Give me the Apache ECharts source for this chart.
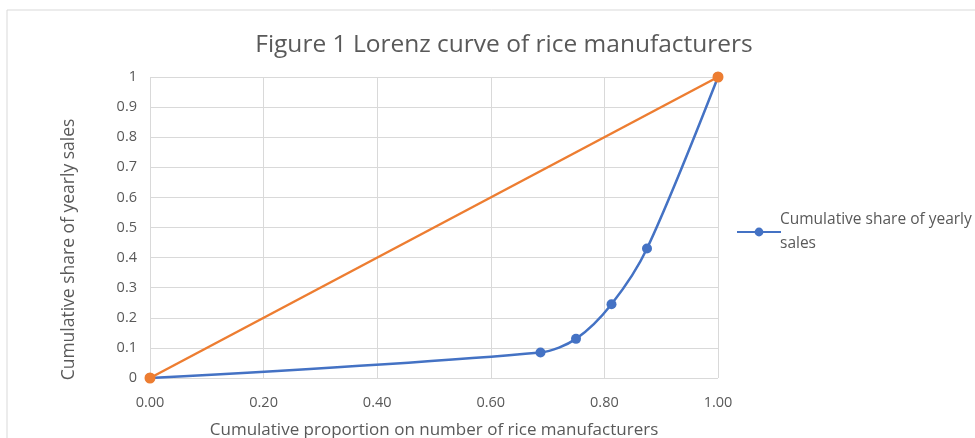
<!DOCTYPE html>
<html><head><meta charset="utf-8">
<script src="https://cdn.jsdelivr.net/npm/echarts@6/dist/echarts.min.js"></script>
<style>html,body{margin:0;padding:0;background:#fff}#c{width:975px;height:438px}</style>
</head><body><div id="c"></div>
<script>
const proportion = [0, 0.6875, 0.75, 0.8125, 0.875, 1];
const cumulativeShare = [0, 0.085, 0.13, 0.245, 0.43, 1];
const equalityX = [0, 1];
const equalityY = [0, 1];
const xTicks = [0, 0.2, 0.4, 0.6, 0.8, 1];
const yTicks = [0, 0.1, 0.2, 0.3, 0.4, 0.5, 0.6, 0.7, 0.8, 0.9, 1];

const font = '"Open Sans", "Liberation Sans", sans-serif';
const chart = echarts.init(document.getElementById('c'));
chart.setOption({
  animation: false,
  title: {
    text: 'Figure 1 Lorenz curve of rice manufacturers',
    left: 499, top: 28, textAlign: 'center',
    textStyle: {fontFamily: font, fontSize: 24.5, fontWeight: 'normal', color: '#595959'}
  },
  graphic: [{type: 'rect', shape: {x: 7, y: 10, width: 975, height: 440}, style: {fill: 'none', stroke: '#d9d9d9', lineWidth: 1}, silent: true}],
  legend: {
    data: [{name: 'Cumulative share of yearly\nsales'}],
    left: 731, top: 203, itemWidth: 44, itemHeight: 11, itemGap: 2,
    textStyle: {fontFamily: font, fontSize: 15.5, color: '#595959', lineHeight: 24, padding: [0, 0, 0, -6]}
  },
  grid: {left: 150, right: 257, top: 77, bottom: 60, outerBoundsMode: 'none', containLabel: false},
  xAxis: {
    type: 'value', min: 0, max: 1, interval: 0.2,
    name: 'Cumulative proportion on number of rice manufacturers',
    nameLocation: 'middle', nameGap: 44,
    nameTextStyle: {fontFamily: font, fontSize: 17, color: '#595959'},
    axisLine: {show: false}, axisTick: {show: false},
    axisLabel: {fontFamily: font, fontSize: 14.5, color: '#595959', margin: 17,
      formatter: v => v.toFixed(2)},
    splitLine: {show: true, lineStyle: {color: '#d9d9d9', width: 1}}
  },
  yAxis: {
    type: 'value', min: 0, max: 1, interval: 0.1,
    name: 'Cumulative share of yearly sales',
    nameLocation: 'middle', nameGap: 72, nameRotate: 90,
    nameTextStyle: {fontFamily: font, fontSize: 17.5, color: '#595959', padding: [0, 44, 0, 0]},
    axisLine: {show: false}, axisTick: {show: false},
    axisLabel: {fontFamily: font, fontSize: 14.5, color: '#595959', margin: 13,
      formatter: v => String(Math.round(v * 10) / 10)},
    splitLine: {show: true, lineStyle: {color: '#d9d9d9', width: 1}}
  },
  series: [
    {
      name: 'Cumulative share of yearly\nsales', type: 'line', smooth: 0.3,
      data: proportion.map((x, i) => [x, cumulativeShare[i]]),
      symbol: 'circle', symbolSize: 10,
      lineStyle: {color: '#4472c4', width: 2.5},
      itemStyle: {color: '#4472c4'}, z: 2
    },
    {
      name: 'Equality', type: 'line',
      data: equalityX.map((x, i) => [x, equalityY[i]]),
      symbol: 'circle', symbolSize: 11,
      lineStyle: {color: '#ed7d31', width: 2.5},
      itemStyle: {color: '#ed7d31'}, z: 3
    }
  ]
});
</script></body></html>
